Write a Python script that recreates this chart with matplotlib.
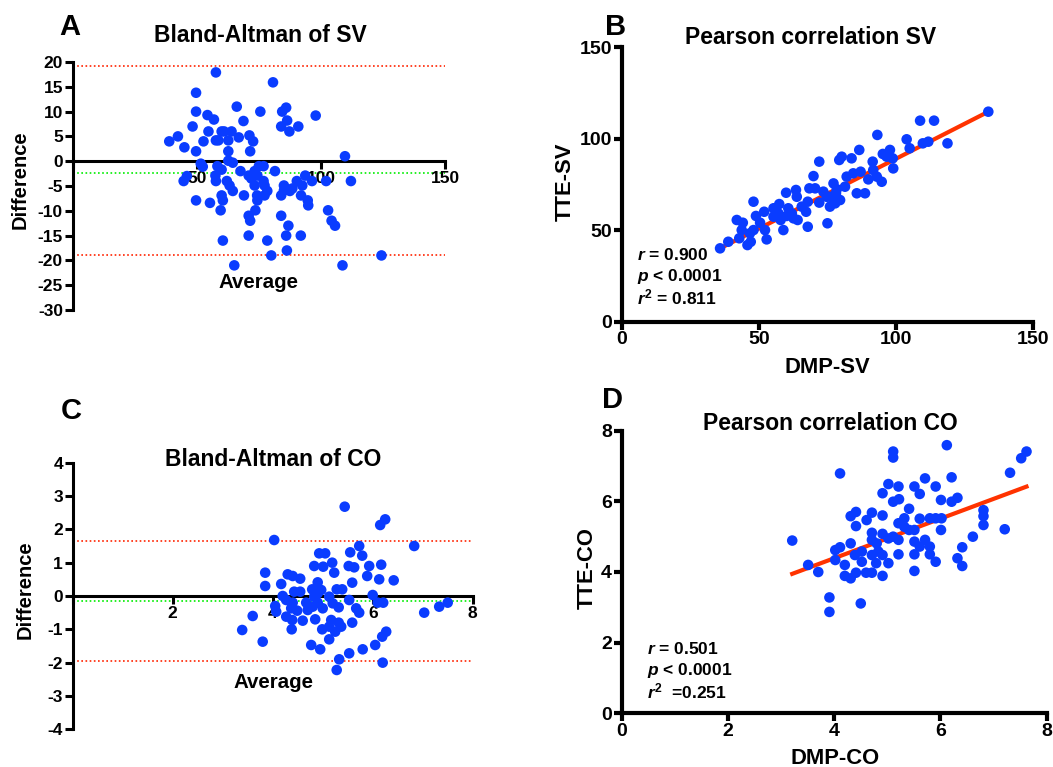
import matplotlib
matplotlib.use("Agg")
import matplotlib.pyplot as plt
import numpy as np

plt.rcParams['font.family'] = ['Liberation Sans', 'DejaVu Sans']
plt.rcParams['font.weight'] = 'bold'
plt.rcParams['axes.unicode_minus'] = False
plt.rcParams['mathtext.fontset'] = 'custom'
plt.rcParams['mathtext.it'] = 'Liberation Sans:italic:bold'
plt.rcParams['mathtext.rm'] = 'Liberation Sans:bold'
plt.rcParams['mathtext.bf'] = 'Liberation Sans:bold'

DOT = '#0a3cff'
LINE_RED = '#ff3300'

# Panel A: Bland-Altman of SV (average, difference)
sv_avg = [57.7, 80.7, 49.7, 66.1, 49.7, 75.6, 84.4, 86.0, 54.3, 56.9, 97.9, 68.8, 86.4,
          48.3, 84.0, 90.9, 87.3, 54.7, 60.0, 64.0, 42.4, 38.9, 52.7, 57.7, 62.7, 66.9,
          71.2, 72.7, 45.0, 49.7, 62.7, 71.5, 58.7, 109.7, 62.7, 64.5, 51.6, 52.4, 58.3,
          60.0, 75.0, 76.9, 67.6, 81.5, 73.3, 57.5, 70.9, 74.4, 93.7, 46.0, 44.7, 57.7,
          62.1, 76.9, 90.3, 96.4, 102.1, 112.1, 63.2, 73.3, 77.3, 85.1, 92.5, 64.5, 78.4,
          87.5, 85.1, 60.0, 69.0, 74.3, 77.3, 84.0, 92.0, 60.5, 74.4, 94.7, 49.7, 55.3,
          94.9, 59.6, 73.6, 102.9, 70.9, 84.0, 71.5, 104.3, 105.7, 86.9, 70.9, 86.0, 91.9,
          60.5, 78.4, 86.3, 80.0, 124.4, 65.1, 108.7, 61.0, 72.0, 88.5]
sv_diff = [17.9, 15.9, 13.8, 11.0, 10.0, 10.0, 10.0, 10.8, 9.3, 8.4, 9.2, 8.1, 8.2,
           7.0, 7.0, 7.0, 6.0, 6.0, 6.0, 6.0, 5.0, 4.0, 4.0, 4.2, 4.2, 4.8,
           5.2, 4.0, 2.8, 2.0, 2.0, 2.0, 4.2, 1.0, 0.1, -0.3, -0.5, -1.1, -1.0,
           -1.7, -1.0, -1.0, -2.0, -2.0, -2.0, -2.9, -2.9, -2.9, -2.9, -3.0, -4.0, -4.0,
           -4.0, -4.0, -4.0, -4.0, -4.0, -4.0, -4.9, -4.9, -4.9, -4.9, -4.9, -6.0, -6.0,
           -6.0, -5.9, -6.9, -6.9, -6.9, -6.9, -6.9, -6.9, -7.9, -7.9, -7.9, -7.9, -8.4,
           -8.9, -9.9, -9.9, -9.9, -11.0, -11.0, -12.0, -12.0, -13.0, -13.0, -15.0, -15.0, -15.0,
           -16.0, -16.0, -18.0, -19.0, -19.0, -21.0, -21.0, 6.0, -3.5, -5.5]
sv_limits = [19.1, -19.0]
sv_bias = -2.3

# Panel B: Pearson correlation SV (DMP, TTE)
sv_dmp = [35.9, 38.9, 42.9, 42.0, 44.2, 43.8, 45.9, 47.1, 48.1, 49.0, 48.1, 50.5, 52.3,
          52.0, 52.9, 55.4, 57.5, 59.0, 58.0, 60.0, 60.8, 62.1, 63.6, 63.9, 64.2, 62.7,
          67.3, 67.9, 67.9, 70.0, 72.1, 68.5, 70.6, 72.1, 73.6, 75.1, 76.0, 77.3, 77.9,
          78.2, 79.4, 80.3, 81.5, 82.1, 83.9, 85.8, 86.7, 87.2, 88.8, 90.0, 91.6, 93.3,
          93.1, 94.9, 95.3, 97.9, 99.1, 98.9, 104.0, 105.1, 108.9, 109.9, 111.9, 114.0,
          118.9, 133.8, 78.5, 84.5, 91.8, 96.7, 46.8, 55.4, 57.2, 60.2, 65.7, 74.8, 76.0, 79.7]
sv_tte = [40.1, 43.7, 45.6, 55.6, 54.1, 50.1, 41.9, 43.7, 65.6, 57.8, 50.1, 54.1, 50.1,
          60.1, 45.0, 62.0, 64.3, 50.1, 55.6, 70.5, 62.0, 59.2, 72.0, 68.3, 55.6, 56.5,
          60.1, 65.6, 51.9, 79.6, 87.5, 72.9, 72.9, 65.1, 71.1, 53.8, 68.3, 75.6, 64.7,
          70.2, 88.4, 90.2, 73.8, 79.3, 89.3, 70.2, 93.9, 82.0, 70.2, 77.8, 87.5, 102.1,
          79.3, 76.5, 91.7, 93.9, 83.8, 89.3, 99.7, 94.8, 109.9, 97.5, 98.4, 109.9,
          97.5, 114.8, 72.4, 81.1, 82.9, 90.2, 48.3, 57.4, 59.2, 57.8, 62.9, 68.3, 62.9, 66.5]
sv_fit = [0.763, 12.7]  # slope, intercept
sv_stats = ["$r$ = 0.900", "$p$ < 0.0001", "$r^2$ = 0.811"]

# Panel C: Bland-Altman of CO
co_avg = [5.44, 4.03, 6.15, 6.25, 6.83, 5.73, 5.55, 5.79, 4.93, 5.05, 4.83, 5.01, 5.19,
          5.52, 5.63, 5.93, 6.17, 3.85, 5.23, 5.89, 4.30, 4.40, 4.55, 6.13, 6.42, 4.90,
          5.59, 4.17, 3.85, 4.79, 4.97, 5.28, 5.39, 4.43, 4.55, 4.20, 6.00, 4.83, 5.13,
          4.27, 5.53, 4.40, 4.67, 4.90, 6.10, 6.21, 7.33, 7.50, 5.20, 4.05, 5.32, 5.67,
          4.37, 5.00, 4.70, 4.49, 5.73, 7.03, 3.60, 4.27, 4.39, 4.60, 4.85, 5.17, 5.32,
          5.59, 5.37, 5.13, 4.38, 3.39, 4.99, 5.25, 6.27, 6.19, 5.13, 3.80, 4.77, 6.05,
          4.95, 5.80, 5.53, 5.33, 6.20, 5.28, 4.07, 4.90, 4.80]
co_diff = [2.68, 1.68, 2.13, 2.30, 1.50, 1.50, 1.31, 1.21, 1.28, 1.28, 0.90, 0.88, 1.00,
           0.90, 0.86, 0.90, 0.94, 0.70, 0.70, 0.60, 0.65, 0.60, 0.52, 0.50, 0.47, 0.41,
           0.40, 0.36, 0.30, 0.20, 0.18, 0.20, 0.20, 0.13, 0.13, 0.00, 0.03, -0.02, -0.02,
           -0.12, -0.12, -0.20, -0.20, -0.20, -0.20, -0.20, -0.32, -0.20, -0.22, -0.30, -0.34, -0.37,
           -0.37, -0.37, -0.42, -0.44, -0.50, -0.50, -0.60, -0.62, -0.72, -0.74, -0.70, -0.72, -0.80,
           -0.80, -0.92, -0.92, -1.00, -1.02, -1.00, -1.07, -1.07, -1.22, -1.30, -1.37, -1.47, -1.47,
           -1.60, -1.60, -1.72, -1.90, -2.00, -2.22, -0.47, 0.08, -0.32]
co_limits = [1.65, -1.95]
co_bias = -0.14

# Panel D: Pearson correlation CO
co_dmp = [3.21, 3.51, 3.70, 3.91, 3.91, 4.11, 4.02, 4.11, 4.02, 4.20, 4.20, 4.31, 4.31,
          4.41, 4.41, 4.31, 4.41, 4.39, 4.50, 4.52, 4.52, 4.60, 4.61, 4.71, 4.71, 4.71,
          4.71, 4.71, 4.79, 4.83, 4.91, 4.91, 4.91, 4.91, 4.91, 5.02, 5.02, 5.02, 5.11,
          5.11, 5.11, 5.21, 5.22, 5.21, 5.21, 5.21, 5.32, 5.32, 5.41, 5.51, 5.51, 5.51,
          5.51, 5.51, 5.61, 5.61, 5.61, 5.71, 5.71, 5.80, 5.80, 5.80, 5.91, 5.91, 5.91,
          6.01, 6.01, 6.02, 6.12, 6.21, 6.21, 6.32, 6.32, 6.41, 6.41, 6.61, 6.81, 6.81,
          6.81, 7.21, 7.31, 7.52, 7.62, 5.41, 5.11, 4.80]
co_tte = [4.89, 4.20, 4.00, 3.28, 2.87, 6.79, 4.62, 4.70, 4.34, 4.20, 3.89, 4.81, 5.58,
          5.70, 5.30, 3.82, 3.98, 4.48, 3.11, 4.58, 4.29, 3.98, 5.47, 5.68, 5.11, 4.91,
          4.48, 3.98, 4.25, 4.58, 6.23, 5.60, 5.08, 4.48, 3.89, 6.49, 4.95, 4.25, 7.41,
          7.24, 5.99, 6.42, 6.06, 5.38, 4.91, 4.50, 5.52, 5.28, 5.79, 6.42, 5.19, 4.86,
          4.50, 4.03, 6.21, 5.51, 4.72, 6.65, 4.91, 5.52, 4.72, 4.50, 6.42, 5.52, 4.29,
          6.04, 5.19, 5.52, 7.59, 6.68, 5.99, 6.10, 4.39, 4.70, 4.17, 5.00, 5.75, 5.58,
          5.33, 5.21, 6.81, 7.22, 7.41, 5.19, 5.00, 4.81]
co_fit = [0.56, 2.15]
co_stats = ["$r$ = 0.501", "$p$ < 0.0001", "$r^2$  =0.251"]

W, H = 1053, 767
fig = plt.figure(figsize=(W / 100, H / 100), dpi=100)


def box(l, t, r, b):
    # pixel box -> figure fraction rect
    return [l / W, 1 - b / H, (r - l) / W, (b - t) / H]


def ftext(x, y, s, size, **kw):
    fig.text(x / W, 1 - y / H, s, fontsize=size, fontweight='bold',
             ha=kw.pop('ha', 'center'), va=kw.pop('va', 'center'), **kw)


def style_axes(ax, lw, tick_size):
    for side in ['top', 'right']:
        ax.spines[side].set_visible(False)
    ax.spines['left'].set_linewidth(lw)
    ax.spines['bottom'].set_linewidth(lw)
    ax.tick_params(width=lw, length=6, labelsize=tick_size, direction='out', pad=1)
    for lab in ax.get_xticklabels() + ax.get_yticklabels():
        lab.set_fontweight('bold')


def bland_altman(ax, avg, diff, limits, bias):
    ax.axhline(limits[0], color='#ff2200', ls=(0, (1, 1.5)), lw=1.2, zorder=1)
    ax.axhline(limits[1], color='#ff2200', ls=(0, (1, 1.5)), lw=1.2, zorder=1)
    ax.axhline(bias, color='#00ee00', ls=(0, (1, 1.5)), lw=1.2, zorder=1)
    ax.scatter(avg, diff, s=58, color=DOT, edgecolors='none', zorder=3, clip_on=False)
    ax.spines['bottom'].set_position(('data', 0))


def correlation(ax, x, y, fit, stats, pos, dy):
    xs = np.array([min(x), max(x)])
    ax.plot(xs, fit[0] * xs + fit[1], color=LINE_RED, lw=3, zorder=2)
    ax.scatter(x, y, s=58, color=DOT, edgecolors='none', zorder=3, clip_on=False)
    for i, s in enumerate(stats):
        ax.text(pos[0], pos[1] - i * dy, s, fontsize=12.5, fontweight='bold',
                ha='left', va='center')


# A
axA = fig.add_axes(box(72.7, 62, 445, 310))
bland_altman(axA, sv_avg, sv_diff, sv_limits, sv_bias)
axA.set_xlim(0, 150)
axA.set_ylim(-30, 20)
axA.set_xticks([0, 50, 100, 150])
axA.set_xticklabels(['', '50', '100', '150'])
axA.set_yticks(np.arange(-30, 21, 5))
style_axes(axA, 2.2, 12.5)
ftext(70, 27, 'A', 21)
ftext(260, 35, 'Bland-Altman of SV', 16.5)
ftext(20, 180, 'Difference', 14.5, rotation=90)
ftext(258, 282, 'Average', 14.8)

# B
axB = fig.add_axes(box(621.7, 47.3, 1032.7, 321.7))
correlation(axB, sv_dmp, sv_tte, sv_fit, sv_stats, (5.5, 36.4), 11.6)
axB.set_xlim(0, 150)
axB.set_ylim(0, 150)
axB.set_xticks([0, 50, 100, 150])
axB.set_yticks([0, 50, 100, 150])
style_axes(axB, 3, 14)
ftext(616, 27, 'B', 21)
ftext(811, 37, 'Pearson correlation SV', 16.5)
ftext(565, 182, 'TTE-SV', 15.8, rotation=90)
ftext(827, 368, 'DMP-SV', 15.8)

# C
axC = fig.add_axes(box(72.7, 462.7, 472.7, 729.3))
bland_altman(axC, co_avg, co_diff, co_limits, co_bias)
axC.set_xlim(0, 8)
axC.set_ylim(-4, 4)
axC.set_xticks([0, 2, 4, 6, 8])
axC.set_xticklabels(['', '2', '4', '6', '8'])
axC.set_yticks(np.arange(-4, 5, 1))
style_axes(axC, 2.2, 12.5)
ftext(71, 411, 'C', 21)
ftext(273, 459, 'Bland-Altman of CO', 16.5)
ftext(25, 590, 'Difference', 14.5, rotation=90)
ftext(273, 683, 'Average', 14.8)

# D
axD = fig.add_axes(box(621.7, 430.7, 1046.7, 713.3))
correlation(axD, co_dmp, co_tte, co_fit, co_stats, (0.48, 1.81), 0.6)
axD.set_xlim(0, 8)
axD.set_ylim(0, 8)
axD.set_xticks([0, 2, 4, 6, 8])
axD.set_yticks([0, 2, 4, 6, 8])
style_axes(axD, 3, 14)
ftext(612, 400, 'D', 21)
ftext(830, 423, 'Pearson correlation CO', 16.5)
ftext(587, 568, 'TTE-CO', 15.8, rotation=90)
ftext(835, 758, 'DMP-CO', 15.8)

fig.savefig('out.png', dpi=100)
